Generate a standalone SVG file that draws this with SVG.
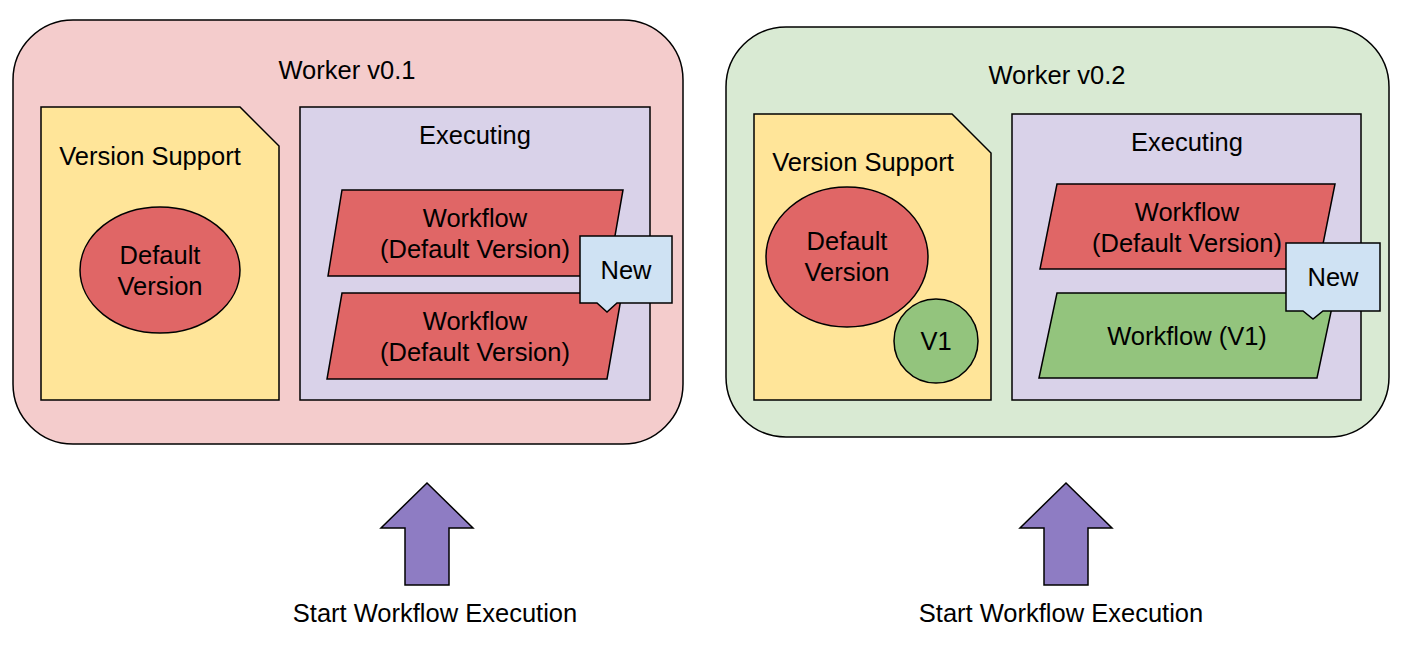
<svg xmlns="http://www.w3.org/2000/svg" width="1408" height="653" viewBox="0 0 1408 653">
<style>
text{font-family:"Liberation Sans",Arial,sans-serif;font-size:25.5px;fill:#000;text-anchor:middle}
.s{stroke:#000;stroke-width:1.5}
.red{fill:#e06666}.grn{fill:#93c47d}.doc{fill:#ffe599}.ex{fill:#d9d2e9}.call{fill:#cfe2f3}.arr{fill:#8e7cc3}
</style>
<rect width="1408" height="653" fill="#fff"/>
<g id="worker1">
<rect x="13" y="20" width="670" height="424" rx="60" fill="#f4cccc" class="s"/>
<text x="347" y="79">Worker v0.1</text>
</g>
<g id="doc1"><path d="M41 107H240L279 146V400H41Z" class="s doc"/><text x="150" y="165">Version Support</text></g>
<g id="default1"><ellipse cx="160" cy="270" rx="80" ry="63" class="s red"/><text x="160" y="264">Default</text><text x="160" y="295">Version</text></g>
<g id="exec1"><rect x="300" y="107" width="350" height="293" class="s ex"/><text x="475" y="144">Executing</text></g>
<g id="wf1a"><path d="M342 190H623L608 276H328Z" class="s red"/><text x="475" y="227">Workflow</text><text x="475" y="258">(Default Version)</text></g>
<g id="wf1b"><path d="M342 293H622L607 379H327Z" class="s red"/><text x="475" y="330">Workflow</text><text x="475" y="361">(Default Version)</text></g>
<g id="new1"><path d="M580 236H672V303H617L607 312L597 303H580Z" class="s call"/><text x="626" y="279">New</text></g>
<g id="worker2">
<rect x="726" y="27" width="663" height="410" rx="60" fill="#d9ead3" class="s"/>
<text x="1057" y="84">Worker v0.2</text>
</g>
<g id="doc2"><path d="M754 114H952L991 153V400H754Z" class="s doc"/><text x="863" y="171">Version Support</text></g>
<g id="default2"><ellipse cx="847" cy="257" rx="81" ry="70" class="s red"/><text x="847" y="250">Default</text><text x="847" y="281">Version</text></g>
<g id="v1"><circle cx="936" cy="341" r="42" class="s grn"/><text x="936" y="350">V1</text></g>
<g id="exec2"><rect x="1012" y="114" width="349" height="286" class="s ex"/><text x="1187" y="151">Executing</text></g>
<g id="wf2a"><path d="M1057 184H1335L1318 269H1040Z" class="s red"/><text x="1187" y="221">Workflow</text><text x="1187" y="252">(Default Version)</text></g>
<g id="wf2b"><path d="M1057 293H1335L1317 378H1039Z" class="s grn"/><text x="1187" y="345">Workflow (V1)</text></g>
<g id="new2"><path d="M1286 243H1380V311H1323L1313 319L1303 311H1286Z" class="s call"/><text x="1333" y="286">New</text></g>
<g id="connectors">
<path d="M427 483L473 528H449V585H405V528H381Z" class="s arr"/>
<path d="M1066 483L1112 528H1088V585H1044V528H1020Z" class="s arr"/>
</g>
<g id="labels">
<text x="435" y="622">Start Workflow Execution</text>
<text x="1061" y="622">Start Workflow Execution</text>
</g>
</svg>
